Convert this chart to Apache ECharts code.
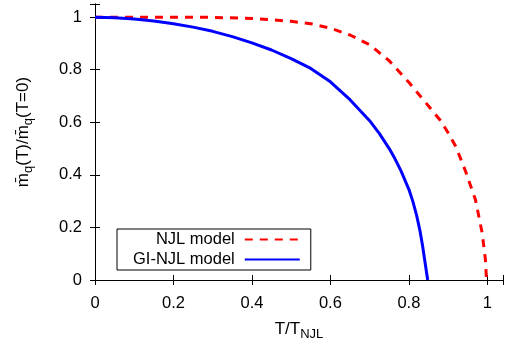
<!DOCTYPE html>
<html>
<head>
<meta charset="utf-8">
<script src="https://cdn.jsdelivr.net/npm/echarts@6/dist/echarts.min.js"></script>
<style>html,body{margin:0;padding:0;background:#fff}#c{width:506px;height:347px}</style>
</head>
<body>
<div id="c"></div>
<script>
const xTicks = [0, 0.2, 0.4, 0.6, 0.8, 1];
const yTicks = [0, 0.2, 0.4, 0.6, 0.8, 1];
const njlT = [0, 0.1, 0.2, 0.3, 0.4, 0.45, 0.5, 0.55, 0.6, 0.65, 0.7, 0.75, 0.8, 0.85, 0.88, 0.9, 0.92, 0.945, 0.97, 0.987, 0.995, 0.998];
const njlM = [1.0, 1.0, 1.0, 0.999, 0.995, 0.99, 0.984, 0.975, 0.958, 0.932, 0.895, 0.834, 0.752, 0.662, 0.608, 0.56, 0.507, 0.412, 0.304, 0.178, 0.08, 0.0];
const giT = [0, 0.05, 0.1, 0.15, 0.2, 0.25, 0.3, 0.35, 0.4, 0.45, 0.5, 0.55, 0.6, 0.65, 0.7, 0.725, 0.75, 0.765, 0.78, 0.8, 0.81, 0.82, 0.828, 0.835, 0.84, 0.844, 0.846, 0.848];
const giM = [1.0, 0.998, 0.993, 0.985, 0.975, 0.962, 0.946, 0.926, 0.902, 0.875, 0.842, 0.805, 0.754, 0.686, 0.606, 0.557, 0.5, 0.46, 0.415, 0.345, 0.3, 0.245, 0.19, 0.13, 0.08, 0.04, 0.02, 0.0];

const font = '"Liberation Sans", Arial, sans-serif';
const zip = (a, b) => a.map((v, i) => [v, b[i]]);

const chart = echarts.init(document.getElementById('c'), null, {renderer: 'canvas'});
const tickStyle = {inside: true, length: 5, lineStyle: {color: '#000', width: 1}};
const lineStyle = {color: '#000', width: 1};
chart.setOption({
  animation: false,
  backgroundColor: '#fff',
  grid: {left: 95, right: 0, top: 4, bottom: 67, containLabel: false},
  legend: {
    orient: 'vertical', left: 117, top: 229, align: 'right',
    borderColor: '#000', borderWidth: 1, padding: [2, 10, 2, 16],
    itemWidth: 55, itemHeight: 14, itemGap: 3,
    itemStyle: {opacity: 0},
    textStyle: {fontFamily: font, fontSize: 16.5, color: '#000', padding: [0, 5, 0, 0]},
    data: ['NJL model', 'GI-NJL model']
  },
  xAxis: [{
    type: 'value', min: 0, max: 1.04, interval: 0.2, position: 'bottom',
    axisLine: {show: true, lineStyle: lineStyle}, axisTick: tickStyle, splitLine: {show: false},
    axisLabel: {fontFamily: font, fontSize: 16.5, color: '#000', margin: 15,
      formatter: v => xTicks.some(t => Math.abs(t - v) < 1e-9) ? String(+v.toFixed(1)) : ''},
    name: '{m|T/T}{s|NJL}', nameLocation: 'middle', nameGap: 38,
    nameTextStyle: {rich: {
      m: {fontFamily: font, fontSize: 17, color: '#000'},
      s: {fontFamily: font, fontSize: 13, color: '#000', padding: [10, 0, 0, 0]}
    }}
  }, {
    type: 'value', min: 0, max: 1.04, interval: 0.2, position: 'top',
    axisLine: {show: true, lineStyle: lineStyle}, axisTick: tickStyle, axisLabel: {show: false}, splitLine: {show: false}
  }],
  yAxis: [{
    type: 'value', min: 0, max: 1.05, interval: 0.2, position: 'left',
    axisLine: {show: true, lineStyle: lineStyle}, axisTick: tickStyle, splitLine: {show: false},
    axisLabel: {fontFamily: font, fontSize: 16.5, color: '#000', margin: 13,
      formatter: v => yTicks.some(t => Math.abs(t - v) < 1e-9) ? String(+v.toFixed(1)) : ''},
    name: '{m|m\u0304}{s|q}{m|(T)/m\u0304}{s|q}{m|(T=0)}', nameLocation: 'middle', nameGap: 60,
    nameTextStyle: {padding: [0, 0, 0, 20], rich: {
      m: {fontFamily: font, fontSize: 17, color: '#000'},
      s: {fontFamily: font, fontSize: 13, color: '#000', padding: [10, 0, 0, 0]}
    }}
  }, {
    type: 'value', min: 0, max: 1.05, interval: 0.2, position: 'right',
    axisLine: {show: true, lineStyle: lineStyle}, axisTick: tickStyle, axisLabel: {show: false}, splitLine: {show: false}
  }],
  series: [{
    name: 'NJL model', type: 'line', symbol: 'none',
    data: zip(njlT, njlM), color: '#ff0000',
    lineStyle: {color: '#ff0000', width: 3, type: [8, 7]}
  }, {
    name: 'GI-NJL model', type: 'line', symbol: 'none',
    data: zip(giT, giM), color: '#0000ff',
    lineStyle: {color: '#0000ff', width: 3}
  }]
});
</script>
</body>
</html>
